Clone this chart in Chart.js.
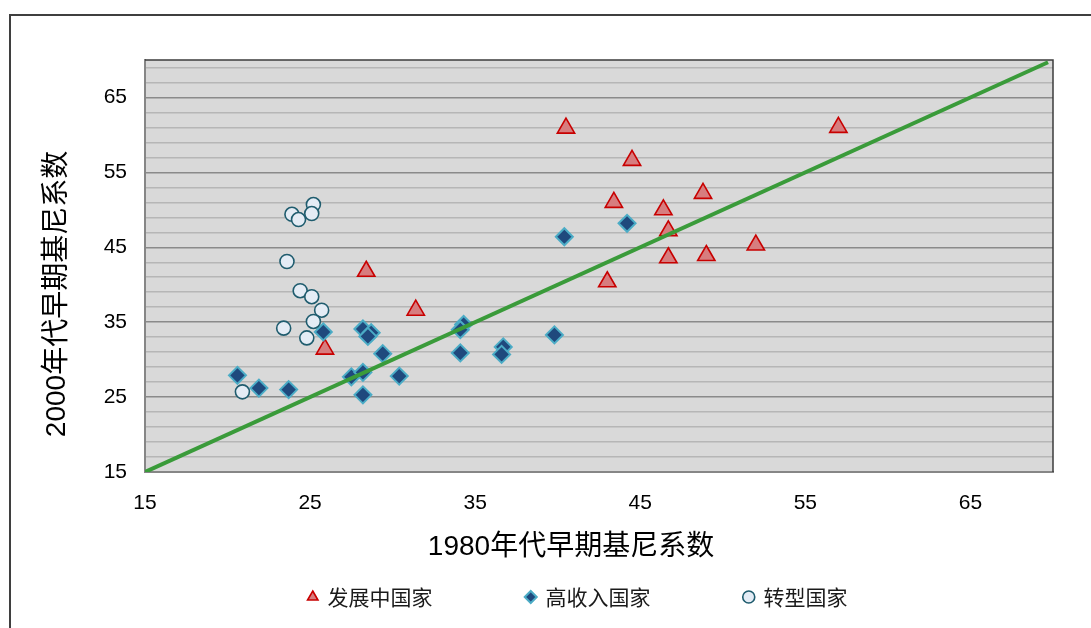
<!DOCTYPE html>
<html><head><meta charset="utf-8">
<script src="https://cdn.jsdelivr.net/npm/chart.js@4.4.0/dist/chart.umd.min.js"></script>
<style>
html,body{margin:0;padding:0;background:#fff;}
#wrap{position:relative;width:1091px;height:628px;overflow:hidden;}
#frame{position:absolute;left:9px;top:14px;width:1200px;height:700px;border-left:2px solid #3f3f3f;border-top:2px solid #3f3f3f;}
#c{position:absolute;left:0;top:0;}
</style></head><body>
<div id="wrap"><div id="frame"></div><canvas id="c" width="1091" height="628"></canvas></div>
<script>
// ---- data ----
const seriesNames = ['发展中国家', '高收入国家', '转型国家'];
const devX = [40.5, 57.0, 44.5, 48.8, 43.4, 46.4, 46.7, 52.0, 46.7, 49.0, 43.0, 28.4, 31.4, 25.9];
const devY = [60.9, 61.0, 56.6, 52.2, 51.0, 50.0, 47.2, 45.3, 43.6, 43.9, 40.4, 41.8, 36.6, 31.4];
const hiX = [20.6, 21.9, 23.7, 25.8, 28.2, 28.7, 28.5, 29.4, 27.5, 28.2, 30.4, 28.2, 34.3, 34.1, 34.1, 36.7, 36.6, 39.8, 40.4, 44.2];
const hiY = [27.9, 26.2, 26.0, 33.7, 34.1, 33.6, 33.1, 30.8, 27.7, 28.3, 27.8, 25.3, 34.7, 34.0, 30.9, 31.7, 30.7, 33.3, 46.4, 48.2];
const trX = [25.2, 23.9, 24.3, 25.1, 23.6, 24.4, 25.1, 25.7, 25.2, 23.4, 24.8, 20.9];
const trY = [50.7, 49.4, 48.7, 49.5, 43.1, 39.2, 38.4, 36.6, 35.1, 34.2, 32.9, 25.7];
const lineX = [15, 69.7];
const lineY = [15, 69.7];
const xTicks = [15, 25, 35, 45, 55, 65];
const yTicks = [15, 17, 19, 21, 23, 25, 27, 29, 31, 33, 35, 37, 39, 41, 43, 45, 47, 49, 51, 53, 55, 57, 59, 61, 63, 65, 67, 69];
const yLabelTicks = [15, 25, 35, 45, 55, 65];
const xTitle = '1980年代早期基尼系数';
const yTitle = '2000年代早期基尼系数';
const legendPad = ['\u3000\u3000\u3000\u3000', '\u3000\u3000\u3000\u3000', '\u3000\u3000'];
const titlePad = '\u3000\u3000';

const pts = (xs, ys) => xs.map((x, i) => ({x: x, y: ys[i]}));

const plotFrame = {
  id: 'plotFrame',
  beforeDraw(chart) {
    const {ctx, chartArea: a} = chart;
    ctx.save();
    ctx.fillStyle = '#d9d9d9';
    ctx.fillRect(a.left, a.top, a.right - a.left, a.bottom - a.top);
    ctx.restore();
  },
  beforeDatasetsDraw(chart) {
    const {ctx, chartArea: a} = chart;
    ctx.save();
    ctx.strokeStyle = '#3c3c3c';
    ctx.lineWidth = 1.5;
    ctx.beginPath();
    ctx.moveTo(a.left, a.top);
    ctx.lineTo(a.right, a.top);
    ctx.lineTo(a.right, a.bottom);
    ctx.stroke();
    ctx.restore();
  }
};

const tickFont = {family: "'Liberation Sans', Arial, sans-serif", size: 21};
const titleFont = {family: "'Liberation Sans', 'Noto Sans CJK SC', sans-serif", size: 28};

new Chart(document.getElementById('c'), {
  type: 'scatter',
  data: {
    datasets: [
      {label: seriesNames[0], data: pts(devX, devY), pointStyle: 'triangle', pointRadius: 10,
       backgroundColor: '#d77d7f', borderColor: '#c80000', borderWidth: 1.6, order: 3},
      {label: seriesNames[1], data: pts(hiX, hiY), pointStyle: 'rectRot', pointRadius: 8.5,
       backgroundColor: '#1f497d', borderColor: '#4bacc6', borderWidth: 2, order: 2},
      {label: seriesNames[2], data: pts(trX, trY), pointStyle: 'circle', pointRadius: 7,
       backgroundColor: '#e4ecf5', borderColor: '#1f5c6e', borderWidth: 1.6, order: 1},
      {label: 'line', data: pts(lineX, lineY), showLine: true, pointRadius: 0,
       borderColor: '#3a9b3a', borderWidth: 4, order: 0}
    ]
  },
  options: {
    responsive: false,
    animation: false,
    events: [],
    layout: {padding: {top: 60, right: 38, left: 0, bottom: 10.5}},
    scales: {
      x: {
        type: 'linear', min: 15, max: 70,
        afterBuildTicks: s => { s.ticks = xTicks.map(v => ({value: v})); },
        afterFit: s => { s.height = 104.5; },
        grid: {display: false, drawTicks: false},
        border: {display: true, color: '#868686', width: 2},
        ticks: {font: tickFont, color: '#000', padding: 19, maxRotation: 0, autoSkip: false},
        title: {display: true, text: xTitle + titlePad, font: titleFont, color: '#000', padding: {top: 0, bottom: 12}}
      },
      y: {
        type: 'linear', min: 15, max: 70,
        afterBuildTicks: s => { s.ticks = yTicks.map(v => ({value: v})); },
        afterFit: s => { s.width = 145; },
        grid: {
          drawTicks: false,
          color: c => yLabelTicks.includes(c.tick && c.tick.value) ? '#8a8a8a' : '#b6b6b6',
          lineWidth: 1.5
        },
        border: {display: true, color: '#868686', width: 2},
        ticks: {font: tickFont, color: '#000', padding: 18, autoSkip: false,
                callback: v => yLabelTicks.includes(v) ? String(v) : ''},
        title: {display: true, text: yTitle + titlePad, font: titleFont, color: '#000', padding: {top: 40, bottom: 0}}
      }
    },
    plugins: {
      tooltip: {enabled: false},
      legend: {
        position: 'bottom',
        fullSize: false,
        labels: {
          usePointStyle: true, boxWidth: 8.5, boxHeight: 8.5, padding: 10,
          font: {family: "'Noto Sans CJK SC', sans-serif", size: 21}, color: '#1a1a1a',
          filter: item => item.datasetIndex < 3,
          sort: (a, b) => a.datasetIndex - b.datasetIndex,
          generateLabels: chart => Chart.defaults.plugins.legend.labels.generateLabels(chart)
            .map(it => { if (it.datasetIndex < 3) it.text = it.text + legendPad[it.datasetIndex]; return it; })
        }
      }
    }
  },
  plugins: [plotFrame]
});
</script>
</body></html>
